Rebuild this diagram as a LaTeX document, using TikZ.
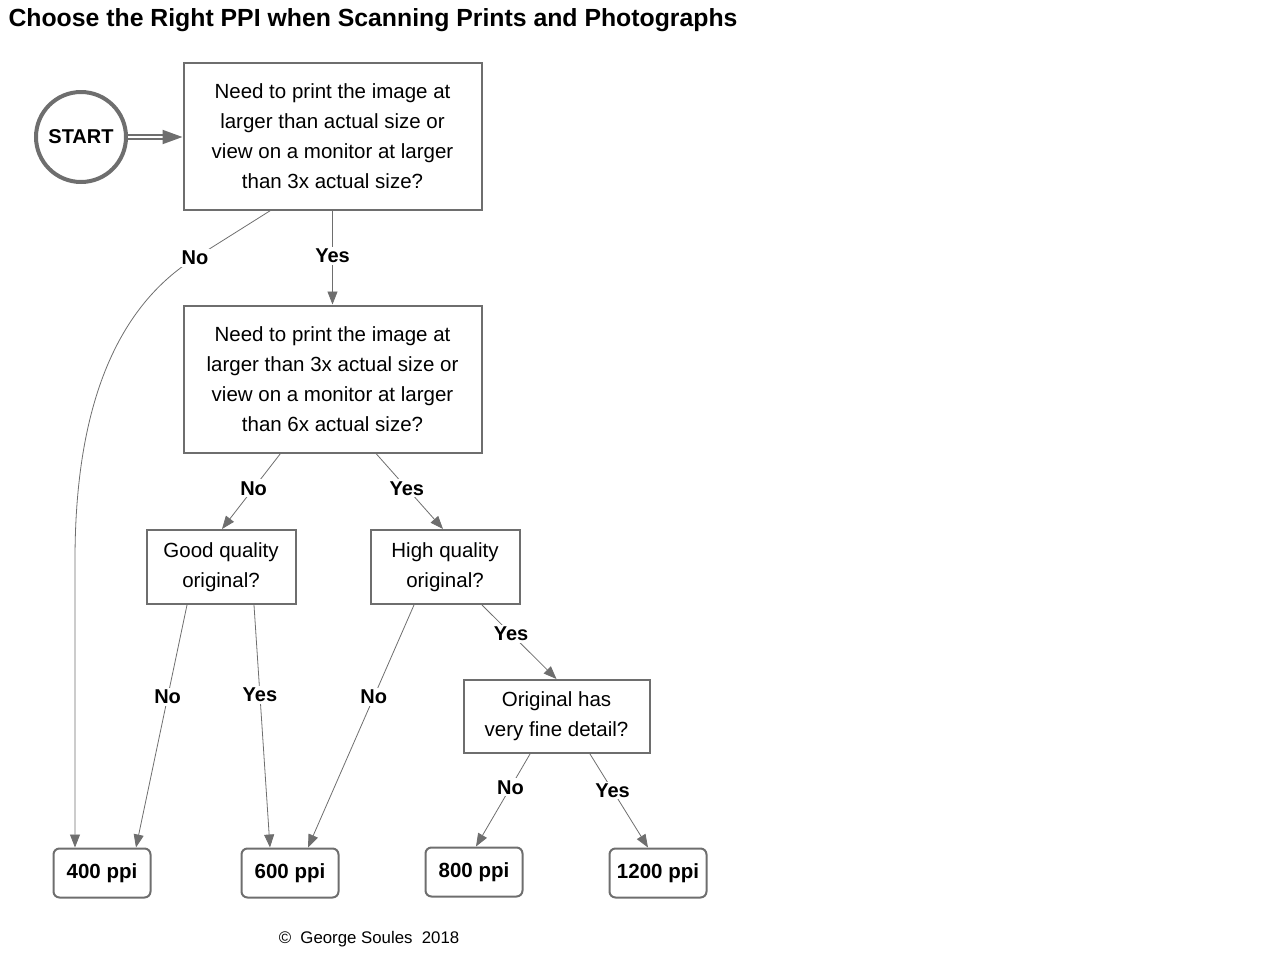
\documentclass[tikz,border=0pt]{standalone}
\usepackage{fontspec}
\setmainfont{Liberation Sans}
\usetikzlibrary{arrows.meta}
\definecolor{linegray}{HTML}{6E6E6E}

\begin{document}
\begin{tikzpicture}[
	x=1pt, y=-1pt,
	question/.style={draw=linegray, line width=2pt, align=center, inner sep=0pt,
		font=\fontsize{20.5}{30}\selectfont},
	result/.style={draw=linegray, line width=2pt, rounded corners=6pt,
		minimum width=97pt, minimum height=49pt, font=\bfseries\fontsize{20.5}{24}\selectfont},
	answer/.style={fill=white, inner sep=2pt, font=\bfseries\fontsize{20}{24}\selectfont},
	flow/.style={-{Triangle[length=13pt,width=10pt]}, draw=linegray, line width=0.8pt},
	]
	\useasboundingbox (0,0) rectangle (1261,954);

	%title
	\node[anchor=west, font=\bfseries\fontsize{24.8}{28}\selectfont] (title) at (5,20)
		{Choose the Right PPI when Scanning Prints and Photographs};

	%questions
	\node[circle, draw=linegray, line width=4pt, minimum size=90pt, inner sep=0pt,
		font=\bfseries\fontsize{20}{24}\selectfont] (start) at (81,137) {START};
	\node[question, minimum width=298pt, minimum height=147pt] (need3x) at (332.5,136)
		{Need to print the image at\\larger than actual size or\\view on a monitor at larger\\than 3x actual size?};
	\node[question, minimum width=298pt, minimum height=147pt] (need6x) at (332.5,379)
		{Need to print the image at\\larger than 3x actual size or\\view on a monitor at larger\\than 6x actual size?};
	\node[question, minimum width=149pt, minimum height=74pt] (good) at (221,567) {Good quality\\original?};
	\node[question, minimum width=149pt, minimum height=74pt] (high) at (445,567) {High quality\\original?};
	\node[question, minimum width=186pt, minimum height=73pt] (detail) at (556.5,716.5) {Original has\\very fine detail?};

	%results
	\node[result] (ppi400) at (102,873) {400 ppi};
	\node[result] (ppi600) at (290,873) {600 ppi};
	\node[result] (ppi800) at (474,872) {800 ppi};
	\node[result] (ppi1200) at (658,873) {1200 ppi};

	%arrows
	\draw[-{Triangle[length=20pt,width=14pt]}, draw=linegray, line width=2pt,
		double=white, double distance=2.5pt] (start.east) -- (start.east -| need3x.west);
	\draw[flow] ([xshift=-62pt]need3x.south) -- (195,258) node[answer] {No}
		.. controls (120,305) and (75,400) .. (75,560) -- ([xshift=-27pt]ppi400.north);
	\draw[flow] (need3x) -- node[answer, pos=0.48] {Yes} (need6x);
	\draw[flow] ([xshift=-52pt]need6x.south) -- node[answer, pos=0.46] {No} ([xshift=1pt]good.north);
	\draw[flow] ([xshift=43.5pt]need6x.south) -- node[answer, pos=0.46] {Yes} ([xshift=-2pt]high.north);
	\draw[flow] ([xshift=-34pt]good.south) -- node[answer, pos=0.38] {No} ([xshift=34pt]ppi400.north);
	\draw[flow] ([xshift=33pt]good.south) -- node[answer, pos=0.37] {Yes} ([xshift=-20pt]ppi600.north);
	\draw[flow] ([xshift=-31pt]high.south) -- node[answer, pos=0.38] {No} ([xshift=18pt]ppi600.north);
	\draw[flow] ([xshift=37pt]high.south) -- node[answer, pos=0.39] {Yes} (detail.north);
	\draw[flow] ([xshift=-26.5pt]detail.south) -- node[answer, pos=0.36] {No} ([xshift=2pt]ppi800.north);
	\draw[flow] ([xshift=33.5pt]detail.south) -- node[answer, pos=0.39] {Yes} ([xshift=-10pt]ppi1200.north);

	%credit
	\node[font=\fontsize{16.8}{20}\selectfont] (credit) at (369,939) {©\ \ George Soules\ \ 2018};
\end{tikzpicture}
\end{document}
